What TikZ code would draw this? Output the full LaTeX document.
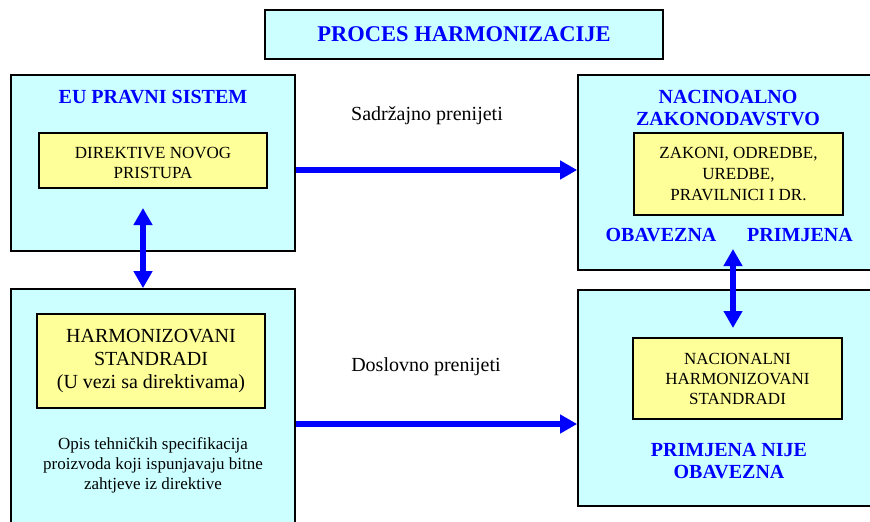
\documentclass[tikz,border=0pt]{standalone}
\usepackage{fontspec}
\setmainfont{Liberation Serif}
\usetikzlibrary{arrows.meta}
\definecolor{boxcyan}{HTML}{CCFFFF}
\definecolor{boxyellow}{HTML}{FFFF99}
\definecolor{hblue}{HTML}{0000FF}
\begin{document}
\begin{tikzpicture}[x=1pt,y=-1pt,
  outerbox/.style={draw=black,line width=1.7pt,fill=boxcyan,inner sep=0pt},
  innerbox/.style={draw=black,line width=1.5pt,fill=boxyellow,inner sep=0pt,align=center,font=\fontsize{17}{20.5}\selectfont},
  headtext/.style={text=hblue,font=\bfseries\fontsize{20}{22}\selectfont,align=center,inner sep=0pt},
  plaintext/.style={font=\fontsize{17}{20}\selectfont,align=center,inner sep=0pt},
  labeltext/.style={font=\fontsize{20}{22}\selectfont,inner sep=0pt},
  bigarrow/.style={draw=hblue,line width=6pt,-{Triangle[length=17pt,width=18pt]}},
  dblarrow/.style={draw=hblue,line width=6pt,{Triangle[length=17pt,width=18pt]}-{Triangle[length=17pt,width=18pt]}}
]
\useasboundingbox (0,0) rectangle (870,522);
\clip (0,0) rectangle (870,522);
\fill[white] (0,0) rectangle (870,522);

% title
\node[outerbox,minimum width=398pt,minimum height=49pt,text=hblue,font=\bfseries\fontsize{22.5}{24}\selectfont] (title) at (464,34.5) {PROCES HARMONIZACIJE};

% EU legal system
\node[outerbox,minimum width=284pt,minimum height=176pt] (EU) at (153,163) {};
\node[headtext] (EUt) at (153,97) {EU PRAVNI SISTEM};
\node[innerbox,minimum width=228pt,minimum height=55pt] (DIR) at (153,160.5) {};
\node[plaintext] (DIRt) at (153,163) {DIREKTIVE NOVOG\\PRISTUPA};

% harmonized standards
\node[outerbox,minimum width=284pt,minimum height=241pt] (HS) at (153,409.5) {};
\node[innerbox,minimum width=228pt,minimum height=94pt,font=\fontsize{20}{23}\selectfont] (HST) at (151,361) {HARMONIZOVANI\\STANDRADI\\(U vezi sa direktivama)};
\node[plaintext] (opis) at (153,465) {Opis tehničkih specifikacija\\proizvoda koji ispunjavaju bitne\\zahtjeve iz direktive};

% national legislation
\node[outerbox,minimum width=297pt,minimum height=195pt] (NZ) at (726.5,172.5) {};
\node[headtext] (NZt) at (728,108) {NACINOALNO\\ZAKONODAVSTVO};
\node[innerbox,minimum width=209pt,minimum height=82pt,font=\fontsize{17}{21}\selectfont] (ZAK) at (738.5,174) {ZAKONI, ODREDBE,\\UREDBE,\\PRAVILNICI I DR.};
\node[headtext] (ob) at (661,235) {OBAVEZNA};
\node[headtext] (pr) at (800,235) {PRIMJENA};

% national harmonized standards
\node[outerbox,minimum width=297pt,minimum height=216pt] (NHS) at (726.5,398) {};
\node[innerbox,minimum width=209pt,minimum height=81pt,font=\fontsize{17}{20}\selectfont] (NAC) at (737.5,378.5) {NACIONALNI\\HARMONIZOVANI\\STANDRADI};
\node[headtext] (pn) at (729,461) {PRIMJENA NIJE\\OBAVEZNA};

% labels
\node[labeltext] (sad) at (427,116) {Sadržajno prenijeti};
\node[labeltext] (dos) at (426,367) {Doslovno prenijeti};

% arrows
\coordinate (lt) at (143,208);
\coordinate (rt) at (733,249);
\coordinate (rb) at (733,328);
\draw[bigarrow] ([yshift=-7pt]EU.east) -- ([yshift=-7pt]EU.east -| NZ.west);
\draw[bigarrow] ([yshift=-14.5pt]HS.east) -- ([yshift=-14.5pt]HS.east -| NHS.west);
\draw[dblarrow] ([xshift=-10pt]HS.north) -- (lt);
\draw[dblarrow] (rt) -- (rb);
\end{tikzpicture}
\end{document}
